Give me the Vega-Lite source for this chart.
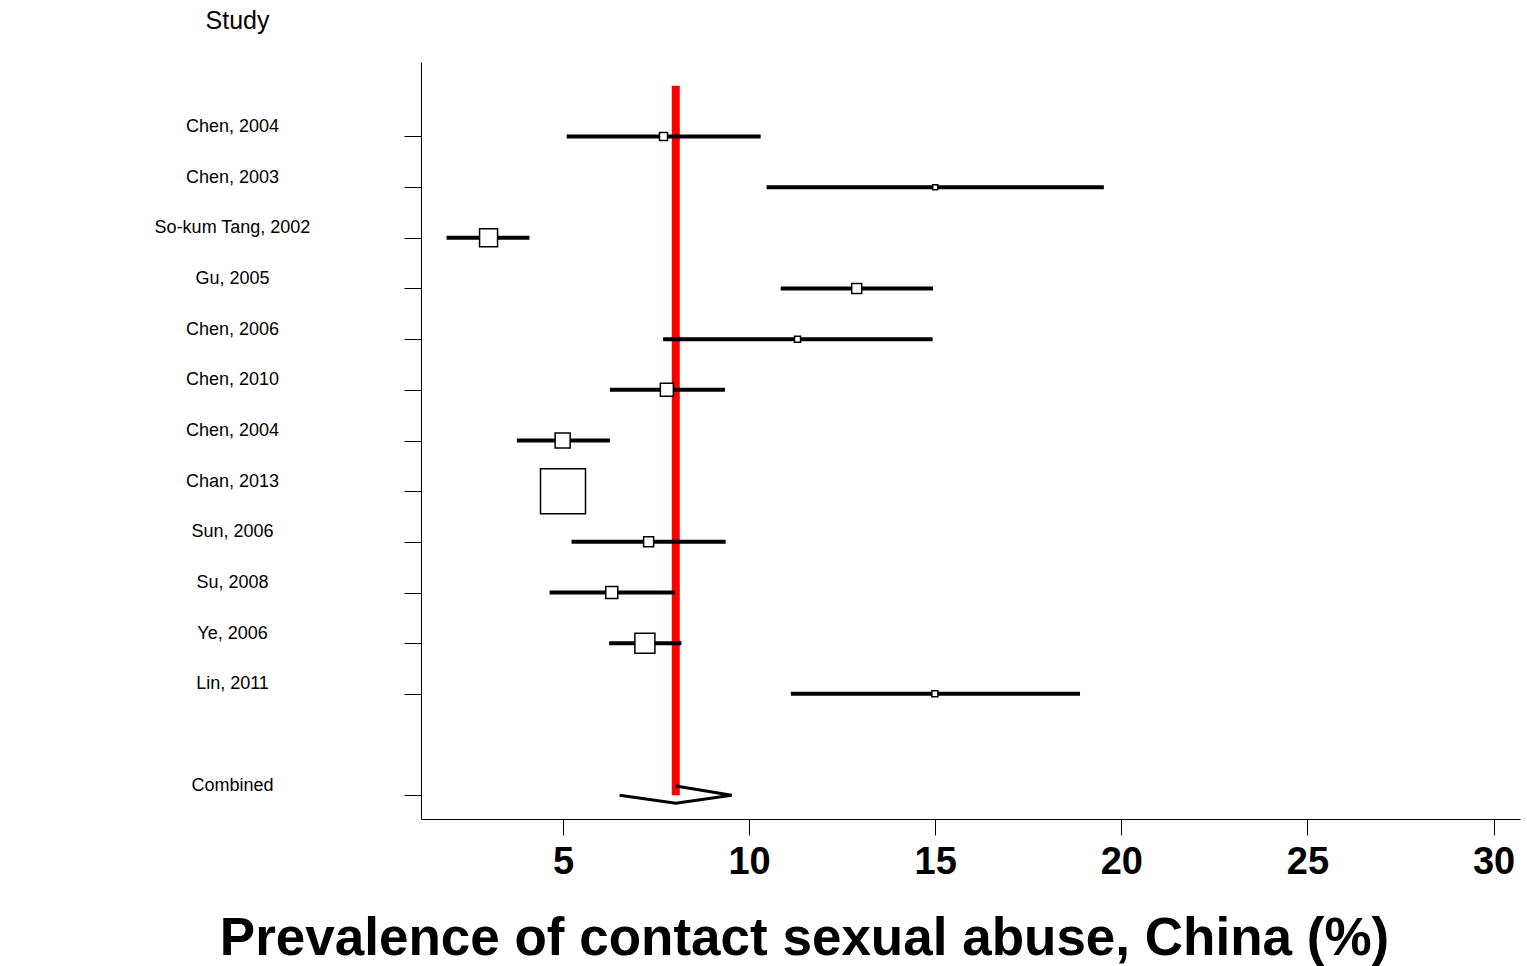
{
  "$schema": "https://vega.github.io/schema/vega-lite/v6.json",
  "width": 1099,
  "height": 757,
  "autosize": {"type": "none"},
  "padding": {"left": 421, "top": 62, "right": 7, "bottom": 147},
  "background": "white",
  "config": {
    "view": {"stroke": null},
    "font": "Liberation Sans",
    "axis": {"grid": false},
    "axisX": {
      "tickSize": 16, "tickColor": "black", "tickWidth": 1,
      "domainColor": "black", "domainWidth": 1,
      "labelFont": "Liberation Sans", "labelFontSize": 38, "labelFontWeight": "bold", "labelColor": "black",
      "labelPadding": 8, "labelFlush": false, "labelOverlap": false,
      "titleFont": "Liberation Sans", "titleFontSize": 53, "titleFontWeight": "bold", "titleColor": "black",
      "titleX": 383, "titleY": 135, "titleBaseline": "alphabetic", "titleAlign": "center"
    },
    "axisY": {
      "tickSize": 17, "tickColor": "black", "tickWidth": 1,
      "domainColor": "black", "domainWidth": 1,
      "labelFont": "Liberation Sans", "labelFontSize": 18, "labelColor": "black",
      "labelAlign": "center", "labelBaseline": "alphabetic", "labelPadding": 172, "labelOffset": -5,
      "labelLimit": 0, "labelOverlap": false, "labelBound": false,
      "titleFont": "Liberation Sans", "titleFontSize": 25, "titleFontWeight": "normal", "titleColor": "black",
      "titleAngle": 0, "titleAlign": "center", "titleBaseline": "alphabetic", "titleX": -184, "titleY": -34
    }
  },
  "datasets": {
    "studies": [
      {"key": "01|Chen, 2004", "study": "Chen, 2004", "kind": "study", "est": 7.70, "lo": 5.10, "hi": 10.31, "weight": 1.75},
      {"key": "02|Chen, 2003", "study": "Chen, 2003", "kind": "study", "est": 15.0, "lo": 10.47, "hi": 19.53, "weight": 0.69},
      {"key": "03|So-kum Tang, 2002", "study": "So-kum Tang, 2002", "kind": "study", "est": 3.0, "lo": 1.87, "hi": 4.10, "weight": 8.88},
      {"key": "04|Gu, 2005", "study": "Gu, 2005", "kind": "study", "est": 12.89, "lo": 10.85, "hi": 14.94, "weight": 2.74},
      {"key": "05|Chen, 2006", "study": "Chen, 2006", "kind": "study", "est": 11.30, "lo": 7.69, "hi": 14.93, "weight": 0.99},
      {"key": "06|Chen, 2010", "study": "Chen, 2010", "kind": "study", "est": 7.79, "lo": 6.26, "hi": 9.35, "weight": 4.63},
      {"key": "07|Chen, 2004", "study": "Chen, 2004", "kind": "study", "est": 4.99, "lo": 3.76, "hi": 6.26, "weight": 6.17},
      {"key": "08|Chan, 2013", "study": "Chan, 2013", "kind": "study", "est": 5.0, "lo": 4.59, "hi": 5.45, "weight": 55.5},
      {"key": "09|Sun, 2006", "study": "Sun, 2006", "kind": "study", "est": 7.30, "lo": 5.23, "hi": 9.37, "weight": 2.74},
      {"key": "10|Su, 2008", "study": "Su, 2008", "kind": "study", "est": 6.31, "lo": 4.64, "hi": 8.0, "weight": 3.95},
      {"key": "11|Ye, 2006", "study": "Ye, 2006", "kind": "study", "est": 7.20, "lo": 6.24, "hi": 8.18, "weight": 10.96},
      {"key": "12|Lin, 2011", "study": "Lin, 2011", "kind": "study", "est": 14.99, "lo": 11.12, "hi": 18.89, "weight": 0.99},
      {"key": "14|Combined", "study": "Combined", "kind": "combined", "est": 8.03, "lo": 6.52, "hi": 9.53, "weight": null}
    ],
    "diamond": [
      {"vertex": 1, "pct": 6.52, "row": 14.0},
      {"vertex": 2, "pct": 8.03, "row": 14.16},
      {"vertex": 3, "pct": 9.53, "row": 14.0},
      {"vertex": 4, "pct": 8.03, "row": 13.82}
    ]
  },
  "layer": [
    {
      "data": {"name": "studies"},
      "transform": [{"filter": "datum.kind == 'combined'"}],
      "mark": {"type": "rule", "color": "#ff0000", "strokeWidth": 8},
      "encoding": {
        "x": {"field": "est", "type": "quantitative", "title": "Prevalence of contact sexual abuse, China (%)",
              "scale": {"domain": [1.185, 30.71], "nice": false, "zero": false},
              "axis": {"values": [5, 10, 15, 20, 25, 30]}},
        "y": {"datum": 0, "type": "quantitative", "scale": {"domain": [-0.47, 14.47], "reverse": true, "nice": false, "zero": false}, "axis": null},
        "y2": {"datum": 14}
      }
    },
    {
      "data": {"name": "studies"},
      "transform": [{"filter": "datum.kind == 'study'"}],
      "encoding": {
        "y": {
          "field": "key", "type": "nominal", "title": "Study",
          "scale": {"type": "point", "padding": 0.47, "domain": ["00", "01|Chen, 2004", "02|Chen, 2003", "03|So-kum Tang, 2002", "04|Gu, 2005", "05|Chen, 2006", "06|Chen, 2010", "07|Chen, 2004", "08|Chan, 2013", "09|Sun, 2006", "10|Su, 2008", "11|Ye, 2006", "12|Lin, 2011", "13", "14|Combined"]},
          "axis": {
            "values": ["01|Chen, 2004", "02|Chen, 2003", "03|So-kum Tang, 2002", "04|Gu, 2005", "05|Chen, 2006", "06|Chen, 2010", "07|Chen, 2004", "08|Chan, 2013", "09|Sun, 2006", "10|Su, 2008", "11|Ye, 2006", "12|Lin, 2011", "14|Combined"],
            "labelExpr": "split(datum.label, '|')[1]"
          }
        }
      },
      "layer": [
        {
          "mark": {"type": "rule", "color": "black", "strokeWidth": 4},
          "encoding": {
            "x": {"field": "lo", "type": "quantitative", "title": "Prevalence of contact sexual abuse, China (%)",
                  "scale": {"domain": [1.185, 30.71], "nice": false, "zero": false},
                  "axis": {"values": [5, 10, 15, 20, 25, 30]}},
            "x2": {"field": "hi"}
          }
        },
        {
          "mark": {"type": "square", "filled": true, "fill": "white", "stroke": "black", "strokeWidth": 1.5, "opacity": 1},
          "encoding": {
            "x": {"field": "est", "type": "quantitative", "title": "Prevalence of contact sexual abuse, China (%)",
                  "scale": {"domain": [1.185, 30.71], "nice": false, "zero": false},
                  "axis": {"values": [5, 10, 15, 20, 25, 30]}},
            "size": {"field": "weight", "type": "quantitative", "scale": {"domain": [0, 100], "range": [0, 3648]}, "legend": null}
          }
        }
      ]
    },
    {
      "data": {"name": "diamond"},
      "mark": {"type": "line", "color": "black", "strokeWidth": 3},
      "encoding": {
        "x": {"field": "pct", "type": "quantitative", "title": "Prevalence of contact sexual abuse, China (%)",
              "scale": {"domain": [1.185, 30.71], "nice": false, "zero": false},
              "axis": {"values": [5, 10, 15, 20, 25, 30]}},
        "y": {"field": "row", "type": "quantitative", "scale": {"domain": [-0.47, 14.47], "reverse": true, "nice": false, "zero": false}, "axis": null},
        "order": {"field": "vertex", "type": "quantitative"}
      }
    }
  ],
  "resolve": {"scale": {"y": "independent"}, "axis": {"y": "independent"}}
}
